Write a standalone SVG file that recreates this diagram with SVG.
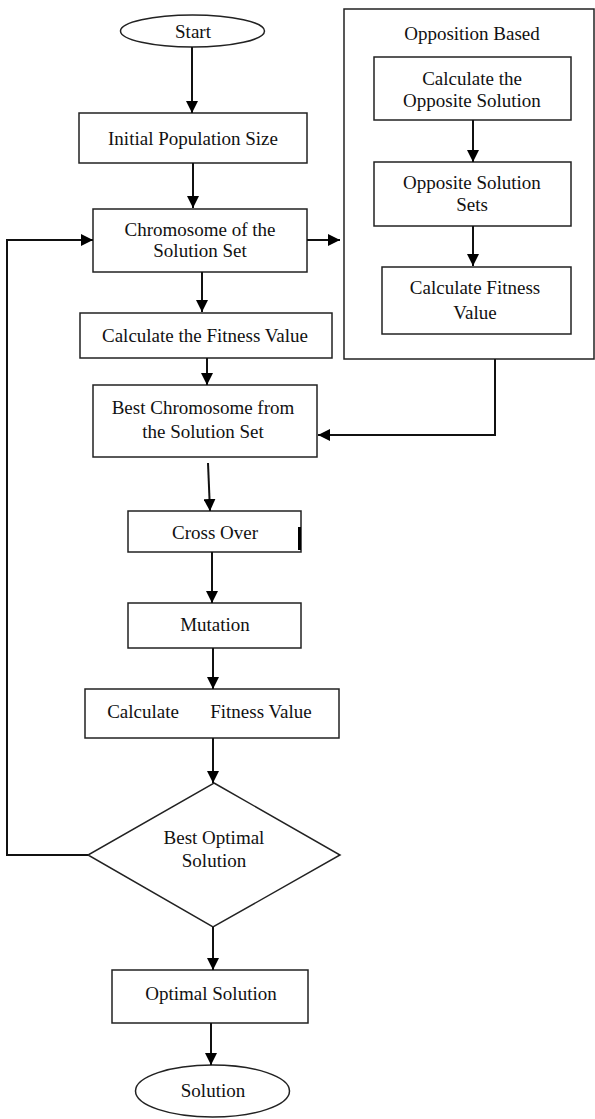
<svg xmlns="http://www.w3.org/2000/svg" width="595" height="1119" viewBox="0 0 595 1119">
<style>
.box{fill:#fff;stroke:#222;stroke-width:1.5}
.t{font-family:"Liberation Serif","Times New Roman",serif;font-size:19px;fill:#111;text-anchor:middle}
.c{fill:none;stroke:#111;stroke-width:2}
</style>
<defs>
<marker id="ah" viewBox="0 0 10 10" refX="10" refY="5" markerWidth="12" markerHeight="12" markerUnits="userSpaceOnUse" orient="auto">
<path d="M0,0 L10,5 L0,10 Z" fill="#000"/>
</marker>
</defs>
<rect width="595" height="1119" fill="#fff"/>
<g id="opposition-group">
<rect class="box" x="344" y="9" width="250" height="350"/>
<text class="t" x="472" y="40">Opposition Based</text>
</g>
<g id="start"><ellipse class="box" cx="192.5" cy="31" rx="72" ry="16"/><text class="t" x="193" y="38">Start</text></g>
<g id="init"><rect class="box" x="79" y="113" width="228" height="50"/><text class="t" x="193" y="145">Initial Population Size</text></g>
<g id="chrom"><rect class="box" x="93" y="209" width="214" height="63"/><text class="t" x="200" y="236">Chromosome of the</text><text class="t" x="200" y="257">Solution Set</text></g>
<g id="opp1"><rect class="box" x="374" y="57" width="197" height="63"/><text class="t" x="472" y="85">Calculate the</text><text class="t" x="472" y="107">Opposite Solution</text></g>
<g id="opp2"><rect class="box" x="374" y="162" width="197" height="64"/><text class="t" x="472" y="189">Opposite Solution</text><text class="t" x="472" y="211">Sets</text></g>
<g id="opp3"><rect class="box" x="382" y="267" width="189" height="67"/><text class="t" x="475" y="294">Calculate Fitness</text><text class="t" x="475" y="319">Value</text></g>
<g id="fit1"><rect class="box" x="80" y="313" width="252" height="45"/><text class="t" x="205" y="342">Calculate the Fitness Value</text></g>
<g id="best"><rect class="box" x="93" y="385" width="224" height="72"/><text class="t" x="203" y="414">Best Chromosome from</text><text class="t" x="203" y="438">the Solution Set</text></g>
<g id="cross"><rect class="box" x="128" y="511" width="173" height="41"/><line x1="299.5" y1="527" x2="299.5" y2="550" stroke="#000" stroke-width="3"/><text class="t" x="215" y="539">Cross Over</text></g>
<g id="mut"><rect class="box" x="128" y="603" width="173" height="45"/><text class="t" x="215" y="631">Mutation</text></g>
<g id="fit2"><rect class="box" x="85" y="689" width="254" height="49"/><text class="t" x="143" y="718">Calculate</text><text class="t" x="261" y="718">Fitness Value</text></g>
<g id="decision"><polygon class="box" points="214,783 340,855 213,927 88,855"/><text class="t" x="214" y="844">Best Optimal</text><text class="t" x="214" y="867">Solution</text></g>
<g id="optimal"><rect class="box" x="112" y="970" width="196" height="53"/><text class="t" x="211" y="1000">Optimal Solution</text></g>
<g id="end"><ellipse class="box" cx="212.5" cy="1091" rx="77" ry="26"/><text class="t" x="213" y="1097">Solution</text></g>
<g id="connectors">
<line class="c" x1="192" y1="47" x2="192" y2="113" marker-end="url(#ah)"/>
<line class="c" x1="193" y1="163" x2="193" y2="208" marker-end="url(#ah)"/>
<line class="c" x1="307" y1="240" x2="340" y2="240" marker-end="url(#ah)"/>
<line class="c" x1="202" y1="272" x2="202" y2="312" marker-end="url(#ah)"/>
<line class="c" x1="473" y1="120" x2="473" y2="162" marker-end="url(#ah)"/>
<line class="c" x1="473" y1="226" x2="473" y2="266" marker-end="url(#ah)"/>
<line class="c" x1="207" y1="358" x2="207" y2="385" marker-end="url(#ah)"/>
<polyline class="c" points="495,359 495,435 318,435" marker-end="url(#ah)"/>
<line class="c" x1="208" y1="463" x2="210" y2="511" marker-end="url(#ah)"/>
<line class="c" x1="212" y1="552" x2="212" y2="603" marker-end="url(#ah)"/>
<line class="c" x1="213" y1="648" x2="213" y2="689" marker-end="url(#ah)"/>
<line class="c" x1="213" y1="738" x2="213" y2="783" marker-end="url(#ah)"/>
<polyline class="c" points="88,855 7,855 7,240 93,240" marker-end="url(#ah)"/>
<line class="c" x1="213" y1="927" x2="213" y2="970" marker-end="url(#ah)"/>
<line class="c" x1="211" y1="1023" x2="211" y2="1065" marker-end="url(#ah)"/>
</g>
</svg>
